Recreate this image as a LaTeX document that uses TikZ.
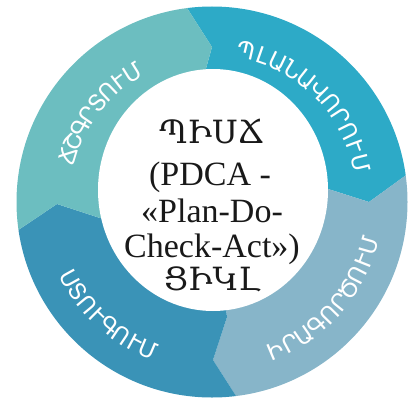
\documentclass[tikz,border=0pt]{standalone}
\usepackage{fontspec}
\setmainfont{Liberation Serif}
\newfontfamily\armsans{DejaVu Sans}
\newfontfamily\armserif{DejaVu Serif}
\definecolor{actc}{RGB}{108,190,192}
\definecolor{planc}{RGB}{45,170,199}
\definecolor{doc}{RGB}{135,181,201}
\definecolor{checkc}{RGB}{58,147,183}
\tikzset{
  lbl/.style={inner sep=0pt, text=white, text height=16pt, text depth=0pt, font=\armsans\fontsize{23}{23}\selectfont},
  centerline/.style={anchor=base, inner sep=0pt, text=black!90, font=\fontsize{34}{34}\selectfont}
}
\begin{document}
\begin{tikzpicture}[x=1pt,y=1pt]
\useasboundingbox (0,0) rectangle (417,400);
% centre and boundary points
\coordinate (C) at (212,200);
\coordinate (b1i) at (200,310); \coordinate (b1t) at (212,353); \coordinate (b1o) at (180,403);
\coordinate (b2i) at (325,212); \coordinate (b2t) at (369,198); \coordinate (b2o) at (420,235);
\coordinate (b3i) at (227,83);  \coordinate (b3t) at (213,40);  \coordinate (b3o) at (245,-10);
\coordinate (b4i) at (100,182); \coordinate (b4t) at (57,196);  \coordinate (b4o) at (5,161);
\begin{scope}
\clip (212,198) circle (195.5);
\fill[planc] (C) -- (b1i) -- (b1t) -- (b1o) -- (430,410) -- (b2o) -- (b2t) -- (b2i) -- cycle;
\fill[doc] (C) -- (b2i) -- (b2t) -- (b2o) -- (430,-10) -- (b3o) -- (b3t) -- (b3i) -- cycle;
\fill[checkc] (C) -- (b3i) -- (b3t) -- (b3o) -- (-10,-10) -- (b4o) -- (b4t) -- (b4i) -- cycle;
\fill[actc] (C) -- (b4i) -- (b4t) -- (b4o) -- (-10,410) -- (b1o) -- (b1t) -- (b1i) -- cycle;
\end{scope}
\fill[white] (213,210) ellipse [x radius=115, y radius=121];
% ring labels, letter by letter
\foreach \ch [count=\i] in {Ճ,Շ,Գ,Ր,Տ,Ո,Ւ,Մ} {
  \pgfmathsetmacro\ang{163-(\i-1)*(163-122)/7}
  \node[lbl, rotate=\ang-90] (act\i) at ([shift={(\ang:150)}]C) {\ch};
}
\foreach \ch [count=\i] in {Պ,Լ,Ա,Ն,Ա,Վ,Ո,Ր,Ո,Ւ,Մ} {
  \pgfmathsetmacro\ang{77-(\i-1)*(77-14)/10}
  \node[lbl, rotate=\ang-90] (plan\i) at ([shift={(\ang:153)}]C) {\ch};
}
\foreach \ch [count=\i] in {Ի,Ր,Ա,Գ,Ո,Ր,Ծ,Ո,Ւ,Մ} {
  \pgfmathsetmacro\ang{-67+(\i-1)*(67-16)/9}
  \node[lbl, rotate=\ang+90] (do\i) at ([shift={(\ang:164)}]C) {\ch};
}
\foreach \ch [count=\i] in {Ս,Տ,Ո,Ւ,Գ,Ո,Ւ,Մ} {
  \pgfmathsetmacro\ang{209+(\i-1)*(247-209)/7}
  \node[lbl, rotate=\ang+90] (check\i) at ([shift={(\ang:163)}]C) {\ch};
}
% centre text
\node[centerline] (t1) at (212,257) {\armserif\fontsize{32}{32}\selectfont ՊԻՍՃ};
\node[centerline] (t2) at (210,215) {(PDCA -};
\node[centerline] (t3) at (212,178) {«Plan-Do-};
\node[centerline] (t4) at (212,143) {Check-Act»)};
\node[centerline] (t5) at (212,110) {\armserif\fontsize{32}{32}\selectfont ՑԻԿԼ};
\end{tikzpicture}
\end{document}
